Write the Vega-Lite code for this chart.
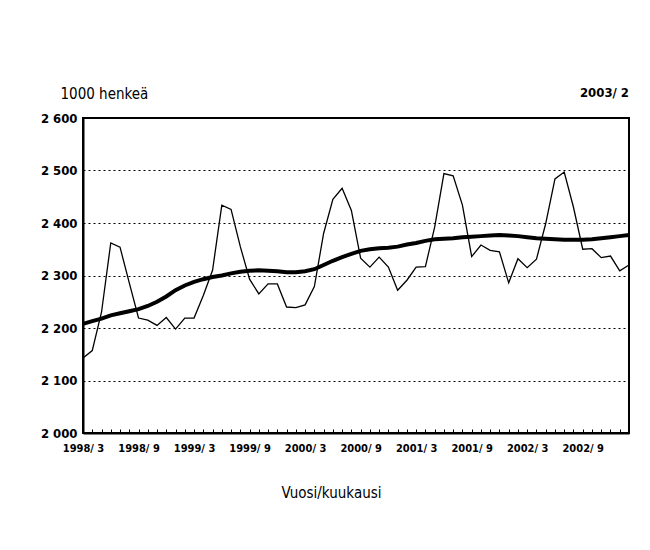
{
  "$schema": "https://vega.github.io/schema/vega-lite/v6.json",
  "width": 546,
  "height": 315,
  "autosize": {"type": "none"},
  "padding": {"left": 83, "top": 118, "right": 21, "bottom": 117},
  "background": "white",
  "title": {
    "text": "2003/ 2",
    "anchor": "end",
    "frame": "group",
    "font": "DejaVu Sans Condensed, DejaVu Sans, sans-serif",
    "fontSize": 13,
    "fontWeight": "bold",
    "color": "black",
    "offset": 14,
    "dy": 28
  },
  "config": {
    "view": {"stroke": "black", "strokeWidth": 2},
    "font": "DejaVu Sans Condensed, DejaVu Sans, sans-serif"
  },
  "data": {
    "values": [
      {"kk": "1998/ 3", "tyolliset": 2143, "trendi": 2208},
      {"kk": "1998/ 4", "tyolliset": 2157, "trendi": 2213},
      {"kk": "1998/ 5", "tyolliset": 2230, "trendi": 2218},
      {"kk": "1998/ 6", "tyolliset": 2362, "trendi": 2224},
      {"kk": "1998/ 7", "tyolliset": 2354, "trendi": 2228},
      {"kk": "1998/ 8", "tyolliset": 2286, "trendi": 2232},
      {"kk": "1998/ 9", "tyolliset": 2219, "trendi": 2236},
      {"kk": "1998/10", "tyolliset": 2215, "trendi": 2242},
      {"kk": "1998/11", "tyolliset": 2205, "trendi": 2250},
      {"kk": "1998/12", "tyolliset": 2220, "trendi": 2260},
      {"kk": "1999/ 1", "tyolliset": 2198, "trendi": 2272},
      {"kk": "1999/ 2", "tyolliset": 2219, "trendi": 2281},
      {"kk": "1999/ 3", "tyolliset": 2219, "trendi": 2288},
      {"kk": "1999/ 4", "tyolliset": 2262, "trendi": 2293},
      {"kk": "1999/ 5", "tyolliset": 2310, "trendi": 2297},
      {"kk": "1999/ 6", "tyolliset": 2434, "trendi": 2300},
      {"kk": "1999/ 7", "tyolliset": 2426, "trendi": 2304},
      {"kk": "1999/ 8", "tyolliset": 2355, "trendi": 2307},
      {"kk": "1999/ 9", "tyolliset": 2293, "trendi": 2309},
      {"kk": "1999/10", "tyolliset": 2265, "trendi": 2310},
      {"kk": "1999/11", "tyolliset": 2284, "trendi": 2309},
      {"kk": "1999/12", "tyolliset": 2284, "trendi": 2308},
      {"kk": "2000/ 1", "tyolliset": 2240, "trendi": 2306},
      {"kk": "2000/ 2", "tyolliset": 2239, "trendi": 2306},
      {"kk": "2000/ 3", "tyolliset": 2244, "trendi": 2308},
      {"kk": "2000/ 4", "tyolliset": 2279, "trendi": 2312},
      {"kk": "2000/ 5", "tyolliset": 2380, "trendi": 2320},
      {"kk": "2000/ 6", "tyolliset": 2445, "trendi": 2328},
      {"kk": "2000/ 7", "tyolliset": 2466, "trendi": 2335},
      {"kk": "2000/ 8", "tyolliset": 2424, "trendi": 2341},
      {"kk": "2000/ 9", "tyolliset": 2333, "trendi": 2347},
      {"kk": "2000/10", "tyolliset": 2316, "trendi": 2350},
      {"kk": "2000/11", "tyolliset": 2335, "trendi": 2352},
      {"kk": "2000/12", "tyolliset": 2316, "trendi": 2353},
      {"kk": "2001/ 1", "tyolliset": 2272, "trendi": 2355},
      {"kk": "2001/ 2", "tyolliset": 2291, "trendi": 2359},
      {"kk": "2001/ 3", "tyolliset": 2316, "trendi": 2362},
      {"kk": "2001/ 4", "tyolliset": 2317, "trendi": 2366},
      {"kk": "2001/ 5", "tyolliset": 2392, "trendi": 2369},
      {"kk": "2001/ 6", "tyolliset": 2494, "trendi": 2370},
      {"kk": "2001/ 7", "tyolliset": 2490, "trendi": 2371},
      {"kk": "2001/ 8", "tyolliset": 2434, "trendi": 2373},
      {"kk": "2001/ 9", "tyolliset": 2336, "trendi": 2374},
      {"kk": "2001/10", "tyolliset": 2358, "trendi": 2375},
      {"kk": "2001/11", "tyolliset": 2348, "trendi": 2376},
      {"kk": "2001/12", "tyolliset": 2345, "trendi": 2377},
      {"kk": "2002/ 1", "tyolliset": 2286, "trendi": 2376},
      {"kk": "2002/ 2", "tyolliset": 2332, "trendi": 2375},
      {"kk": "2002/ 3", "tyolliset": 2315, "trendi": 2373},
      {"kk": "2002/ 4", "tyolliset": 2331, "trendi": 2371},
      {"kk": "2002/ 5", "tyolliset": 2399, "trendi": 2370},
      {"kk": "2002/ 6", "tyolliset": 2484, "trendi": 2369},
      {"kk": "2002/ 7", "tyolliset": 2497, "trendi": 2368},
      {"kk": "2002/ 8", "tyolliset": 2430, "trendi": 2368},
      {"kk": "2002/ 9", "tyolliset": 2350, "trendi": 2368},
      {"kk": "2002/10", "tyolliset": 2351, "trendi": 2369},
      {"kk": "2002/11", "tyolliset": 2334, "trendi": 2371},
      {"kk": "2002/12", "tyolliset": 2337, "trendi": 2373},
      {"kk": "2003/ 1", "tyolliset": 2309, "trendi": 2375},
      {"kk": "2003/ 2", "tyolliset": 2320, "trendi": 2377}
    ]
  },
  "encoding": {
    "x": {
      "field": "kk",
      "type": "ordinal",
      "sort": null,
      "scale": {"type": "point", "padding": 0},
      "axis": {
        "title": "Vuosi/kuukausi",
        "titleFontSize": 15,
        "titleFontWeight": "normal",
        "titleColor": "black",
        "titlePadding": 32,
        "titleX": 248,
        "titleAlign": "center",
        "labelAngle": 0,
        "labelExpr": "test(/\\/ [39]$/, datum.label) ? datum.label : ''",
        "labelFontSize": 11,
        "labelFontWeight": "bold",
        "labelColor": "black",
        "labelPadding": 13,
        "labelOverlap": false,
        "tickColor": "black",
        "tickSize": -4,
        "domainColor": "black",
        "domainWidth": 2,
        "grid": false
      }
    }
  },
  "layer": [
    {
      "mark": {"type": "line", "color": "black", "strokeWidth": 1.3},
      "encoding": {
        "y": {
          "field": "tyolliset",
          "type": "quantitative",
          "scale": {"domain": [2000, 2600], "nice": false, "zero": false},
          "axis": {
            "title": "1000 henkeä",
            "titleAngle": 0,
            "titleAlign": "left",
            "titleBaseline": "alphabetic",
            "titleX": -23,
            "titleY": -20,
            "titleFontSize": 15,
            "titleFontWeight": "normal",
            "titleColor": "black",
            "values": [2000, 2100, 2200, 2300, 2400, 2500, 2600],
            "labelExpr": "replace(format(datum.value, ','), ',', ' ')",
            "labelFontSize": 13,
            "labelFontWeight": "bold",
            "labelColor": "black",
            "labelPadding": 6,
            "tickSize": 0,
            "domainColor": "black",
            "domainWidth": 2,
            "grid": true,
            "gridColor": "black",
            "gridDash": [2, 3],
            "gridWidth": 1,
            "gridOpacity": 1
          }
        }
      }
    },
    {
      "mark": {"type": "line", "color": "black", "strokeWidth": 4},
      "encoding": {
        "y": {"field": "trendi", "type": "quantitative"}
      }
    }
  ]
}
